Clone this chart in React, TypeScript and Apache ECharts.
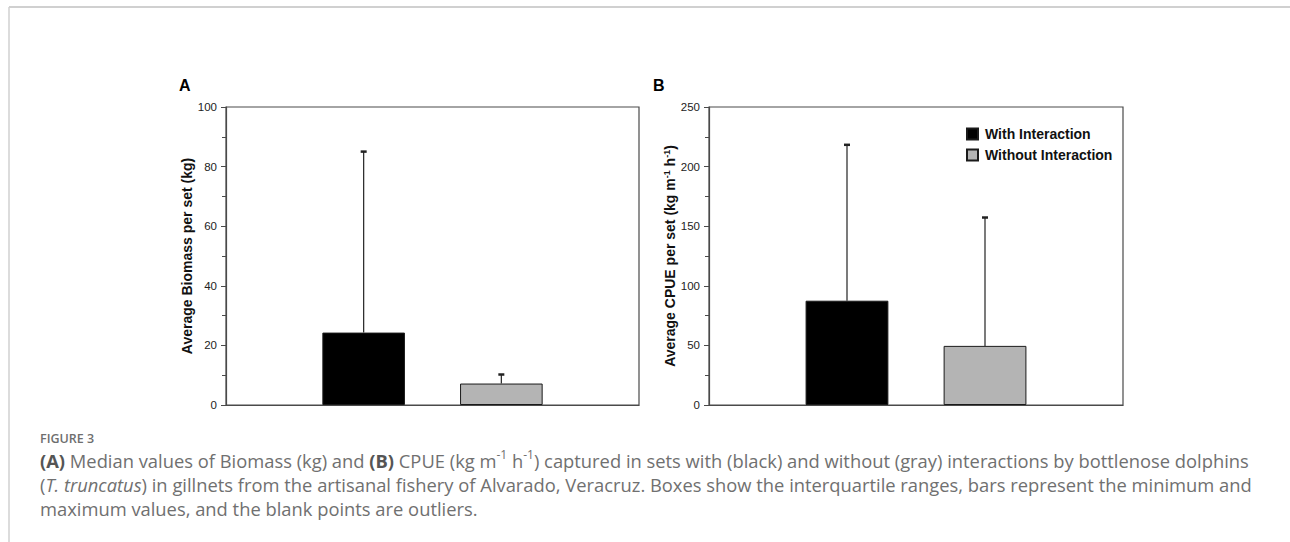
import React, { useEffect, useRef } from "react";
import * as echarts from "echarts";

const groups = ["With Interaction", "Without Interaction"];
const biomassMedian = [24.3, 7.2];
const biomassMax = [85.2, 10.4];
const cpueMedian = [87.5, 49.6];
const cpueMax = [218.7, 157.7];
const biomassAxis = { min: 0, max: 100, interval: 20 };
const cpueAxis = { min: 0, max: 250, interval: 50 };
const barColors = ["#000000", "#b4b4b4"];
const panelLabels = ["A", "B"];
const yTitles = [
  "Average Biomass per set (kg)",
  "Average CPUE per set (kg m{sup|-1} h{sup|-1})",
];
const captionHead = "FIGURE 3";
const captionLines = [
  "{b|(A)} Median values of Biomass (kg) and {b|(B)} CPUE (kg m{sup|-1} h{sup|-1}) captured in sets with (black) and without (gray) interactions by bottlenose dolphins",
  "({i|T. truncatus}) in gillnets from the artisanal fishery of Alvarado, Veracruz. Boxes show the interquartile ranges, bars represent the minimum and",
  "maximum values, and the blank points are outliers.",
];

const FONT = "'Liberation Sans', Arial, sans-serif";
const CAP_FONT = "'Open Sans', Lato, sans-serif";
const CAP_SIZE = 18.35;

export default function App() {
  const ref = useRef<HTMLDivElement>(null);
  useEffect(() => {
    if (!ref.current) return;
    const chart = echarts.init(ref.current, undefined, { renderer: "svg" });
    const panels = [
      { med: biomassMedian, max: biomassMax, axis: biomassAxis, left: 226, width: 413 },
      { med: cpueMedian, max: cpueMax, axis: cpueAxis, left: 709, width: 414 },
    ];
    const series: any[] = [];
    panels.forEach((p, pi) => {
      groups.forEach((g, gi) => {
        series.push({
          type: "bar",
          name: g,
          xAxisIndex: pi,
          yAxisIndex: pi,
          data: [p.med[gi]],
          barWidth: "20%",
          barGap: "66.7%",
          itemStyle: { color: barColors[gi], borderColor: "#1a1a1a", borderWidth: 1 },
        });
      });
      series.push({
        type: "custom",
        xAxisIndex: pi,
        yAxisIndex: pi,
        z: 5,
        data: groups.map((g, gi) => [0, p.med[gi], p.max[gi], gi]),
        renderItem: (params: any, api: any) => {
          const base = api.coord([api.value(0), api.value(1)]);
          const top = api.coord([api.value(0), api.value(2)]);
          const band = api.size([1, 0])[0];
          const x = base[0] + (api.value(3) - 0.5) * (band / 3);
          return {
            type: "group",
            children: [
              {
                type: "line",
                shape: { x1: x, y1: base[1], x2: x, y2: top[1] },
                style: { stroke: "#222", lineWidth: 1.2 },
              },
              {
                type: "line",
                shape: { x1: x - 3, y1: top[1] + 0.5, x2: x + 3, y2: top[1] + 0.5 },
                style: { stroke: "#222", lineWidth: 2.5 },
              },
            ],
          };
        },
      });
    });

    const option: any = {
      animation: false,
      grid: panels.map((p) => ({
        left: p.left,
        top: 107,
        width: p.width,
        height: 298,
        show: true,
        borderColor: "#4a4a4a",
        borderWidth: 1.2,
      })),
      legend: {
        data: groups,
        orient: "vertical",
        left: 961,
        top: 122,
        itemWidth: 11,
        itemHeight: 11,
        itemGap: 7,
        icon: "rect",
        selectedMode: false,
        textStyle: {
          fontFamily: FONT,
          fontWeight: "bold",
          fontSize: 14,
          color: "#111",
          padding: [0, 0, 0, 2],
        },
      },
      xAxis: panels.map((p, pi) => ({
        type: "category",
        gridIndex: pi,
        data: ["all"],
        boundaryGap: true,
        axisLabel: { show: false },
        axisTick: { show: false },
        axisLine: { lineStyle: { color: "#4a4a4a", width: 1.2 } },
      })),
      yAxis: panels.map((p, pi) => ({
        type: "value",
        gridIndex: pi,
        min: p.axis.min,
        max: p.axis.max,
        interval: p.axis.interval,
        splitLine: { show: false },
        axisLine: { show: true, lineStyle: { color: "#4a4a4a", width: 1.2 } },
        axisTick: { show: true, length: 5, lineStyle: { color: "#4a4a4a" } },
        minorTick: { show: true, splitNumber: 2, length: 4, lineStyle: { color: "#4a4a4a" } },
        axisLabel: { fontFamily: FONT, fontSize: 11.5, color: "#222", margin: 9 },
        name: yTitles[pi],
        nameLocation: "middle",
        nameGap: 32,
        nameTextStyle: {
          fontFamily: FONT,
          fontWeight: "bold",
          fontSize: 14,
          color: "#111",
          rich: {
            sup: { fontFamily: FONT, fontWeight: "bold", fontSize: 9, verticalAlign: "top", color: "#111" },
          },
        },
      })),
      graphic: [
        { type: "line", shape: { x1: 9, y1: 7, x2: 1290, y2: 7 }, style: { stroke: "#d0d0d0", lineWidth: 2 } },
        { type: "line", shape: { x1: 9, y1: 7, x2: 9, y2: 542 }, style: { stroke: "#d0d0d0", lineWidth: 1.5 } },
        ...panelLabels.map((t, i) => ({
          type: "text",
          x: i === 0 ? 179 : 653,
          y: 85,
          style: { text: t, font: `bold 16px ${FONT}`, fill: "#000", verticalAlign: "middle" },
        })),
        {
          type: "text",
          x: 40,
          y: 438,
          style: { text: captionHead, font: `600 12.5px ${CAP_FONT}`, fill: "#6e6e6e", verticalAlign: "middle" },
        },
        ...captionLines.map((line, i) => ({
          type: "text",
          x: 40,
          y: 460 + i * 24,
          style: {
            text: line,
            fontFamily: CAP_FONT,
            fontSize: CAP_SIZE,
            fill: "#707070",
            verticalAlign: "middle",
            lineHeight: 24,
            rich: {
              b: { fontFamily: CAP_FONT, fontSize: CAP_SIZE, fontWeight: "bold", fill: "#555", lineHeight: 24 },
              i: { fontFamily: CAP_FONT, fontSize: CAP_SIZE, fontStyle: "italic", fill: "#707070", lineHeight: 24 },
              sup: { fontFamily: CAP_FONT, fontSize: 12, fill: "#707070", verticalAlign: "top", lineHeight: 12 },
            },
          },
        })),
      ],
      series,
    };
    chart.setOption(option);
    return () => chart.dispose();
  }, []);
  return (
    <div
      ref={ref}
      style={{ position: "absolute", left: 0, top: 0, width: 1290, height: 542, background: "#fff" }}
    />
  );
}
